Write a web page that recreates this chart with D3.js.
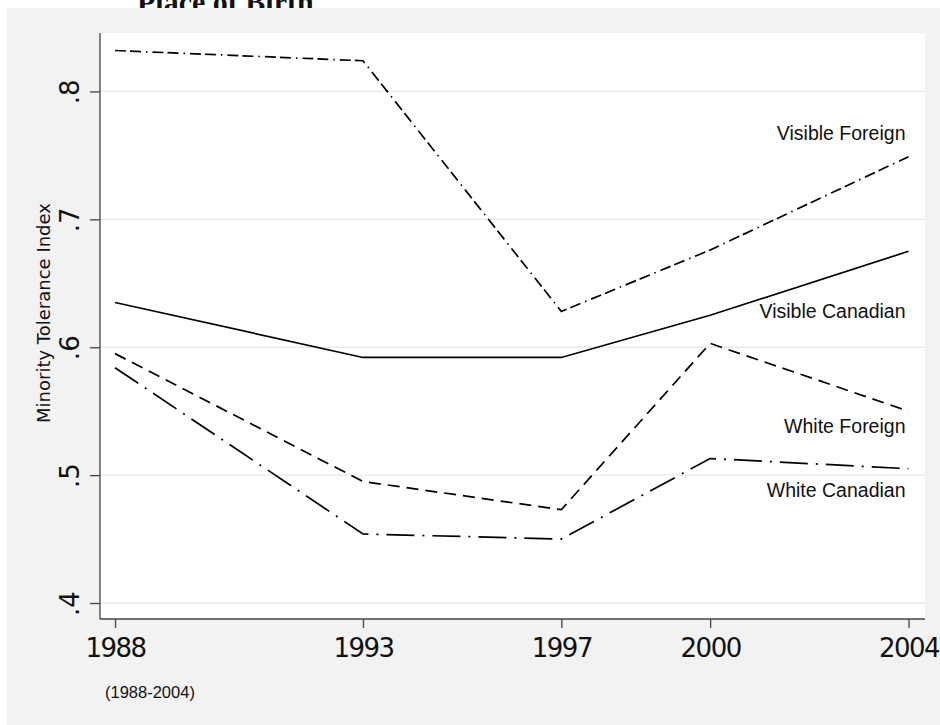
<!DOCTYPE html>
<html>
<head>
<meta charset="utf-8">
<script src="https://cdn.jsdelivr.net/npm/d3@7"></script>
<style>
  body { margin: 0; background: #fff; }
  text { font-family: "Liberation Sans", Arial, sans-serif; fill: #111; }
</style>
</head>
<body>
<div id="chart"></div>
<script>
// survey years and group means of the index
const years = [1988, 1993, 1997, 2000, 2004];
const visibleForeign = [0.832, 0.824, 0.628, 0.676, 0.749];
const visibleCanadian = [0.635, 0.592, 0.592, 0.625, 0.675];
const whiteForeign = [0.595, 0.495, 0.473, 0.603, 0.550];
const whiteCanadian = [0.584, 0.454, 0.450, 0.513, 0.505];
const seriesNames = ["Visible Foreign", "Visible Canadian", "White Foreign", "White Canadian"];
const labelValues = [0.762, 0.623, 0.533, 0.483];
const yTicks = [0.4, 0.5, 0.6, 0.7, 0.8];
const yTickLabels = [".4", ".5", ".6", ".7", ".8"];

let w = 940;
let h = 725;
let plotLeft = 100, plotRight = 925, plotTop = 33, plotBottom = 619;

let svg = d3.select("#chart")
    .append("svg")
    .attr("width", w)
    .attr("height", h);

// title sits mostly above the visible area
svg.append("text")
    .attr("x", 137)
    .attr("y", 12)
    .style("font-family", "'Liberation Serif', 'Times New Roman', serif")
    .style("font-weight", "bold")
    .style("font-size", "30px")
    .text("Place of Birth");

svg.append("rect")
    .attr("x", 7).attr("y", 8)
    .attr("width", w - 7).attr("height", h - 8)
    .attr("fill", "#f2f2f2");

svg.append("rect")
    .attr("x", plotLeft).attr("y", plotTop)
    .attr("width", plotRight - plotLeft).attr("height", plotBottom - plotTop)
    .attr("fill", "#fff");

let x = d3.scaleLinear().domain([1988, 2004]).range([115, 908.5]);
let y = d3.scaleLinear().domain([0.3875, 0.8457]).range([plotBottom, plotTop]);

// grid
svg.append("g")
    .selectAll("line")
    .data(yTicks)
    .enter()
    .append("line")
    .attr("x1", plotLeft).attr("x2", plotRight)
    .attr("y1", d => y(d)).attr("y2", d => y(d))
    .attr("stroke", "#e9e9e9")
    .attr("stroke-width", 1.3);

// y axis
let yAxis = svg.append("g")
    .attr("transform", `translate(${plotLeft},0)`)
    .call(d3.axisLeft(y).tickValues(yTicks).tickSize(10).tickFormat((d, i) => yTickLabels[i]));
yAxis.select(".domain").attr("d", `M0,${plotTop}V${plotBottom}`);
yAxis.selectAll(".tick text")
    .attr("x", null).attr("dy", null)
    .attr("transform", "translate(-21,0) rotate(-90)")
    .attr("text-anchor", "middle")
    .style("font-size", "26px")
    .style("font-family", "'DejaVu Sans', sans-serif");

// x axis
let xAxis = svg.append("g")
    .attr("transform", `translate(0,${plotBottom})`)
    .call(d3.axisBottom(x).tickValues(years).tickSize(9).tickFormat(d3.format("d")));
xAxis.select(".domain").attr("d", `M${plotLeft},0H${plotRight}`);
xAxis.selectAll(".tick text")
    .attr("y", 20)
    .attr("dy", "0.71em")
    .style("font-size", "26px")
    .style("font-family", "'DejaVu Sans', sans-serif")
    .style("letter-spacing", "-1.5px");

svg.selectAll(".domain, .tick line")
    .attr("stroke", "#444")
    .attr("stroke-width", 1.3);

// y title
svg.append("text")
    .attr("transform", `translate(50,313) rotate(-90)`)
    .attr("text-anchor", "middle")
    .style("font-size", "18px")
    .style("font-family", "'DejaVu Sans', sans-serif")
    .text("Minority Tolerance Index");

// lines
const allSeries = [visibleForeign, visibleCanadian, whiteForeign, whiteCanadian];
const dashes = ["11,4,11,5,1.5,5", null, "12,7", "28,8,2,8"];

let line = d3.line()
    .x((d, i) => x(years[i]))
    .y(d => y(d));

svg.append("g")
    .selectAll("path")
    .data(allSeries)
    .enter()
    .append("path")
    .attr("d", d => line(d))
    .attr("fill", "none")
    .attr("stroke", "#000")
    .attr("stroke-width", 1.7)
    .attr("stroke-dasharray", (d, i) => dashes[i]);

// series labels at the right end
svg.append("g")
    .selectAll("text")
    .data(seriesNames)
    .enter()
    .append("text")
    .attr("x", x(2004) - 3)
    .attr("y", (d, i) => y(labelValues[i]))
    .attr("text-anchor", "end")
    .style("font-size", "19.5px")
    .text(d => d);

svg.append("text")
    .attr("x", 105)
    .attr("y", 698)
    .style("font-size", "16.5px")
    .text("(1988-2004)");
</script>
</body>
</html>
